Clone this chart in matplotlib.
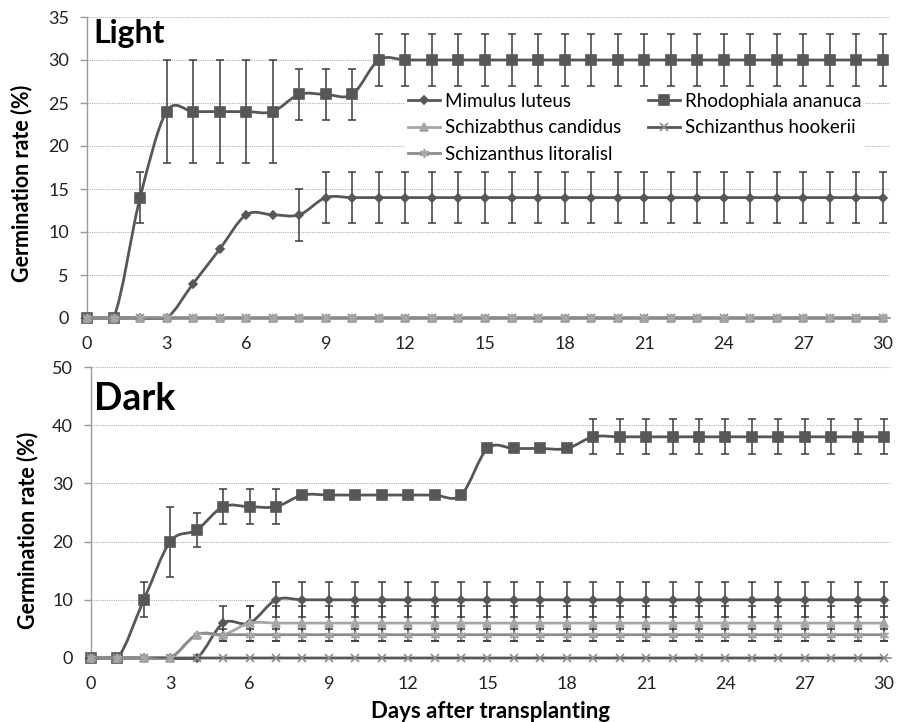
import matplotlib
matplotlib.use("Agg")
import matplotlib.pyplot as plt
from matplotlib.path import Path
from matplotlib.patches import PathPatch, Rectangle
from matplotlib.lines import Line2D
import numpy as np

plt.rcParams['font.family'] = ['Lato', 'DejaVu Sans']

days = list(range(31))
xticks = [0, 3, 6, 9, 12, 15, 18, 21, 24, 27, 30]
series_names = ["Mimulus luteus", "Rhodophiala ananuca", "Schizabthus candidus",
                "Schizanthus hookerii", "Schizanthus litoralisl"]

# ---- Light ----
light_mimulus = [0, 0, 0, 0, 4, 8, 12, 12, 12, 14, 14, 14, 14, 14, 14, 14,
                 14, 14, 14, 14, 14, 14, 14, 14, 14, 14, 14, 14, 14, 14, 14]
light_mimulus_err = [0, 0, 0, 0, 0, 0, 0, 0, 3, 3, 3, 3, 3, 3, 3, 3,
                     3, 3, 3, 3, 3, 3, 3, 3, 3, 3, 3, 3, 3, 3, 3]
light_rhodo = [0, 0, 14, 24, 24, 24, 24, 24, 26, 26, 26, 30, 30, 30, 30, 30,
               30, 30, 30, 30, 30, 30, 30, 30, 30, 30, 30, 30, 30, 30, 30]
light_rhodo_err = [0, 0, 3, 6, 6, 6, 6, 6, 3, 3, 3, 3, 3, 3, 3, 3,
                   3, 3, 3, 3, 3, 3, 3, 3, 3, 3, 3, 3, 3, 3, 3]
light_candidus = [0, 0, 0, 0, 0, 0, 0, 0, 0, 0, 0, 0, 0, 0, 0, 0,
                  0, 0, 0, 0, 0, 0, 0, 0, 0, 0, 0, 0, 0, 0, 0]
light_hookerii = [0, 0, 0, 0, 0, 0, 0, 0, 0, 0, 0, 0, 0, 0, 0, 0,
                  0, 0, 0, 0, 0, 0, 0, 0, 0, 0, 0, 0, 0, 0, 0]
light_litoralis = [0, 0, 0, 0, 0, 0, 0, 0, 0, 0, 0, 0, 0, 0, 0, 0,
                   0, 0, 0, 0, 0, 0, 0, 0, 0, 0, 0, 0, 0, 0, 0]
no_err = [0, 0, 0, 0, 0, 0, 0, 0, 0, 0, 0, 0, 0, 0, 0, 0,
          0, 0, 0, 0, 0, 0, 0, 0, 0, 0, 0, 0, 0, 0, 0]

# ---- Dark ----
dark_mimulus = [0, 0, 0, 0, 0, 6, 6, 10, 10, 10, 10, 10, 10, 10, 10, 10,
                10, 10, 10, 10, 10, 10, 10, 10, 10, 10, 10, 10, 10, 10, 10]
dark_mimulus_err = [0, 0, 0, 0, 0, 3, 3, 3, 3, 3, 3, 3, 3, 3, 3, 3,
                    3, 3, 3, 3, 3, 3, 3, 3, 3, 3, 3, 3, 3, 3, 3]
dark_rhodo = [0, 0, 10, 20, 22, 26, 26, 26, 28, 28, 28, 28, 28, 28, 28, 36,
              36, 36, 36, 38, 38, 38, 38, 38, 38, 38, 38, 38, 38, 38, 38]
dark_rhodo_err = [0, 0, 3, 6, 3, 3, 3, 3, 0, 0, 0, 0, 0, 0, 0, 0,
                  0, 0, 0, 3, 3, 3, 3, 3, 3, 3, 3, 3, 3, 3, 3]
dark_candidus = [0, 0, 0, 0, 4, 4, 6, 6, 6, 6, 6, 6, 6, 6, 6, 6,
                 6, 6, 6, 6, 6, 6, 6, 6, 6, 6, 6, 6, 6, 6, 6]
dark_candidus_err = [0, 0, 0, 0, 0, 0, 3, 3, 3, 3, 3, 3, 3, 3, 3, 3,
                     3, 3, 3, 3, 3, 3, 3, 3, 3, 3, 3, 3, 3, 3, 3]
dark_hookerii = [0, 0, 0, 0, 0, 0, 0, 0, 0, 0, 0, 0, 0, 0, 0, 0,
                 0, 0, 0, 0, 0, 0, 0, 0, 0, 0, 0, 0, 0, 0, 0]
dark_litoralis = [0, 0, 0, 0, 4, 4, 4, 4, 4, 4, 4, 4, 4, 4, 4, 4,
                  4, 4, 4, 4, 4, 4, 4, 4, 4, 4, 4, 4, 4, 4, 4]
dark_litoralis_err = [0, 0, 0, 0, 0, 1, 1, 1, 1, 1, 1, 1, 1, 1, 1, 1,
                      1, 1, 1, 1, 1, 1, 1, 1, 1, 1, 1, 1, 1, 1, 1]

DARK = '#575757'
LIGHTG = '#a6a6a6'
MIDG = '#8c8c8c'
ERRC = '#3c3c3c'

styles = [
    dict(color=DARK, marker='D', ms=4.5, mfc=DARK, mec=DARK),
    dict(color=DARK, marker='s', ms=6.5, mfc=DARK, mec=DARK),
    dict(color=LIGHTG, marker='^', ms=6, mfc=LIGHTG, mec=LIGHTG),
    dict(color=DARK, marker='x', ms=6, mfc=MIDG, mec=MIDG),
    dict(color=MIDG, marker=(6, 2, 0), ms=6.5, mfc=LIGHTG, mec=LIGHTG),
]


def smooth_path(x, y):
    pts = np.column_stack([x, y]).astype(float)
    n = len(pts)
    verts = [pts[0]]
    codes = [Path.MOVETO]
    for i in range(n - 1):
        p0 = pts[i - 1] if i > 0 else pts[i]
        p1 = pts[i]
        p2 = pts[i + 1]
        p3 = pts[i + 2] if i + 2 < n else pts[i + 1]
        c1 = p1 + (p2 - p0) / 6.0
        c2 = p2 - (p3 - p1) / 6.0
        verts += [c1, c2, p2]
        codes += [Path.CURVE4] * 3
    return Path(verts, codes)


def draw_series(ax, x, y, err, st, z, clip_rect):
    patch = PathPatch(smooth_path(x, y), facecolor='none', edgecolor=st['color'],
                      lw=2.0, zorder=z, capstyle='round')
    ax.add_patch(patch)
    patch.set_clip_path(clip_rect)
    idx = [i for i, e in enumerate(err) if e > 0]
    if idx:
        ax.errorbar([x[i] for i in idx], [y[i] for i in idx],
                    yerr=[err[i] for i in idx], fmt='none', ecolor=ERRC,
                    elinewidth=1.1, capsize=2.8, capthick=1.1, zorder=z + 0.2)
    ax.plot(x, y, linestyle='none', marker=st['marker'], ms=st['ms'],
            mfc=st['mfc'], mec=st['mec'], mew=1.2, zorder=z + 0.5, clip_on=False)


def style_axes(ax, ymax, ystep):
    ax.set_xlim(0, 30.25)
    ax.set_ylim(0, ymax)
    ax.set_xticks(xticks)
    ax.set_yticks(np.arange(0, ymax + 0.1, ystep))
    ax.yaxis.grid(True, linestyle=(0, (1, 1)), color='#b0b0b0', lw=0.8)
    ax.set_axisbelow(True)
    for s in ['top', 'right']:
        ax.spines[s].set_visible(False)
    ax.spines['left'].set_color('#9a9a9a')
    ax.spines['bottom'].set_color('#8a8a8a')
    ax.spines['left'].set_linewidth(1.0)
    ax.spines['bottom'].set_linewidth(1.2)
    ax.tick_params(axis='y', length=5, width=1, color='#9a9a9a', pad=8,
                   labelsize=13, labelcolor='#222222')
    ax.tick_params(axis='x', length=0, pad=13, labelsize=13, labelcolor='#222222')


fig = plt.figure(figsize=(9.02, 7.22), dpi=100)
ax1 = fig.add_axes([87 / 902, 1 - 318 / 722, (889.6 - 87) / 902, (318 - 17) / 722])
ax2 = fig.add_axes([91 / 902, 1 - 658 / 722, (890.6 - 91) / 902, (658 - 367) / 722])

style_axes(ax1, 35, 5)
style_axes(ax2, 50, 10)

light = [(light_mimulus, light_mimulus_err), (light_rhodo, light_rhodo_err),
         (light_candidus, no_err), (light_hookerii, no_err),
         (light_litoralis, no_err)]
dark = [(dark_mimulus, dark_mimulus_err), (dark_rhodo, dark_rhodo_err),
        (dark_candidus, dark_candidus_err), (dark_hookerii, no_err),
        (dark_litoralis, dark_litoralis_err)]

for ax, group in ((ax1, light), (ax2, dark)):
    clip_rect = Rectangle((-0.02, -0.006), 1.04, 1.1, transform=ax.transAxes,
                          facecolor='none', edgecolor='none')
    for k, (y, e) in enumerate(group):
        draw_series(ax, days, y, e, styles[k], 3 + k, clip_rect)

# legend
handles = []
for k, st in enumerate(styles):
    handles.append(Line2D([], [], color=st['color'], lw=2.0, marker=st['marker'],
                          ms=st['ms'], mfc=st['mfc'], mec=st['mec'], mew=1.2))
order = [0, 2, 4, 1, 3]
leg = ax1.legend([handles[i] for i in order], [series_names[i] for i in order],
                 ncol=2, loc='upper left', bbox_to_anchor=(405 / 902, 1 - 90 / 722),
                 bbox_transform=fig.transFigure, frameon=True, fontsize=13.5,
                 handlelength=1.7, handletextpad=0.3, columnspacing=1.4,
                 labelspacing=0.5, borderpad=0.15, borderaxespad=0)
leg.get_frame().set_facecolor('white')
leg.get_frame().set_edgecolor('none')
leg.get_frame().set_alpha(1)
leg.set_zorder(2.5)

fig.text(93 / 902, 1 - 43 / 722, "Light", fontsize=23, fontweight='bold',
         ha='left', va='baseline', color='black')
fig.text(94 / 902, 1 - 410 / 722, "Dark", fontsize=27, fontweight='bold',
         ha='left', va='baseline', color='black')
fig.text(22 / 902, 1 - 183 / 722, "Germination rate (%)", rotation=90,
         fontsize=15.5, fontweight='bold', ha='center', va='center')
fig.text(28 / 902, 1 - 530 / 722, "Germination rate (%)", rotation=90,
         fontsize=15.5, fontweight='bold', ha='center', va='center')
fig.text(491 / 902, 1 - 711 / 722, "Days after transplanting",
         fontsize=16, fontweight='bold', ha='center', va='center')

fig.savefig("out.png", dpi=100)
